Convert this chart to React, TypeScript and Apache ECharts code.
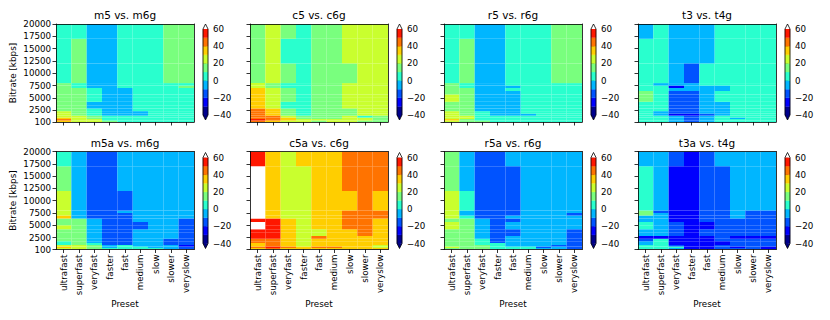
import React, { useEffect, useRef } from "react";
import * as echarts from "echarts";

// ---------------- data ----------------
const presets = ["ultrafast", "superfast", "veryfast", "faster", "fast", "medium", "slow", "slower", "veryslow"];
const panelTitles = [
  "m5 vs. m6g", "c5 vs. c6g", "r5 vs. r6g", "t3 vs. t4g",
  "m5a vs. m6g", "c5a vs. c6g", "r5a vs. r6g", "t3a vs. t4g",
];
// bitrate cell edges (kbps), bottom to top
const bitrateEdges = [100, 400, 700, 1000, 1400, 1800, 2300, 2850, 3500, 4200, 5000, 5700, 6400, 7000, 7500, 8000, 12000, 17000, 20000];
const yTicks = [100, 2500, 5000, 7500, 10000, 12500, 15000, 17500, 20000];
const levels = [-40, -30, -20, -10, 0, 10, 20, 30, 40, 50, 60];
const levelColors = ["#00008d", "#0000fe", "#0053ff", "#00b6ff", "#29ffce", "#79ff7e", "#c9ff2e", "#ffce00", "#ff7300", "#ff1700"];
const underColor = "#000080";
const overColor = "#ffffff";

// Each panel: one array per preset column, values per bitrate row from bottom (100) to top (20000), in %
const m5Cols = [
  [35, 45, 35, 25, 25, 25, 15, 15, 15, 15, 15, 15, 15, 15, 15, 5, 5, 5],
  [25, 25, 25, 25, 15, 15, 15, 15, 15, 15, 15, 15, 15, 5, 5, 15, 15, 5],
  [25, 25, 15, 15, 5, 5, 5, -5, -5, 5, 5, 5, 5, -5, -5, -5, -5, -5],
  [15, 5, 5, 5, -5, -5, -5, -5, -5, -5, -5, -5, -5, -5, -5, -5, -5, -5],
  [5, 5, 5, 5, -5, -5, -5, -5, -5, -5, -5, -5, -5, 5, 5, 5, 5, 5],
  [5, 5, 5, 5, -5, -5, 5, 5, 5, 5, 5, 5, 5, 5, 5, 5, 5, 5],
  [5, 5, 5, 5, 5, 5, 5, 5, 5, 5, 5, 5, 5, 5, 5, 5, 5, 5],
  [5, 5, 5, 5, 5, 5, 5, 5, 5, 5, 5, 5, 5, 5, 5, 15, 15, 15],
  [5, 5, 5, 5, 5, 5, 5, 5, 5, 5, 5, 5, 5, 15, 5, 15, 15, 15],
];
const c5Cols = [
  [45, 55, 45, 45, 45, 45, 45, 35, 35, 35, 35, 35, 35, 25, 25, 15, 15, 15],
  [35, 45, 45, 45, 35, 35, 35, 25, 25, 25, 25, 25, 25, 15, 15, 25, 25, 25],
  [25, 35, 35, 25, 15, 15, 15, 5, 5, 15, 15, 15, 15, 5, 5, 15, 5, 15],
  [25, 25, 15, 15, 5, 5, 5, 5, 5, 5, 5, 5, 5, 5, 5, 5, 5, 5],
  [15, 25, 15, 15, 15, 15, 15, 15, 15, 15, 15, 15, 15, 15, 15, 15, 15, 15],
  [25, 25, 15, 15, 15, 15, 15, 15, 15, 15, 15, 15, 15, 15, 15, 15, 15, 15],
  [25, 25, 25, 25, 15, 15, 15, 25, 25, 25, 25, 25, 25, 25, 25, 15, 25, 25],
  [15, 25, 25, 5, 25, 25, 25, 25, 25, 25, 25, 25, 25, 25, 25, 25, 25, 25],
  [15, 15, 15, 15, 25, 25, 25, 25, 25, 25, 25, 25, 25, 25, 25, 25, 25, 25],
];
const r5Cols = [
  [25, 35, 25, 25, 25, 25, 15, 15, 15, 25, 25, 15, 15, 15, 15, 5, 5, 5],
  [15, 15, 25, 25, 15, 15, 15, 15, 15, 15, 15, 15, 15, 5, 5, 15, 15, 5],
  [15, 5, 5, 5, 5, 5, -5, -5, -5, -5, -5, -5, -5, -5, -5, -5, -5, -5],
  [5, 5, 5, 5, -5, -5, -5, -5, -5, -5, -5, -5, -5, -5, -5, -5, -5, -5],
  [5, 5, 5, 5, -5, -5, -5, -5, -5, -5, -5, -5, 5, -5, 5, 5, 5, 5],
  [5, 5, 5, 5, -5, 5, 5, 5, 5, 5, 5, 5, 5, 5, 5, 5, 5, 5],
  [5, 5, 5, 5, 5, 5, 5, 5, 5, 5, 5, 5, 5, 5, 5, 5, 5, 5],
  [5, 5, 5, 5, 5, 5, 5, 5, 5, 5, 5, 5, 5, 5, 5, 15, 15, 15],
  [5, 5, 5, 5, 5, 5, 5, 5, 5, 5, 5, 5, 5, 5, 5, 15, 15, 15],
];
const t3Cols = [
  [5, 5, 5, 5, 5, 5, 5, 5, 5, 15, 15, 15, 5, 5, 5, 5, 5, -5],
  [5, 5, 5, 5, -5, -5, 5, 5, 5, 5, 5, 5, 5, 5, -5, 5, 5, 5],
  [-5, -5, -5, -5, -25, -15, -15, -15, -15, -15, -15, -15, -5, -25, -5, -5, -5, -5],
  [-15, -15, -15, -15, -25, -15, -15, -15, -15, -15, -15, -15, -5, -5, -5, -15, -5, -5],
  [-5, -5, -5, -5, -15, -5, -5, -5, -5, -5, -5, -5, -5, -5, 5, 5, -5, -5],
  [5, 5, 5, 5, -5, -5, -5, -5, -5, 5, 5, 5, -5, -5, 5, 5, 5, 5],
  [5, 5, -5, 5, 5, 5, 5, 5, 5, 5, 5, 5, 5, 5, 5, 5, 5, 5],
  [5, 5, 5, 5, 5, 5, 5, 5, 5, 5, 5, 5, 5, 5, 5, 5, 5, 5],
  [5, 5, 5, 5, 5, 5, 5, 5, 5, 5, 5, 5, 5, 5, 5, 5, 5, 5],
];
const m5aCols = [
  [25, 35, 25, 5, 5, 15, 15, 15, 15, 25, 15, 15, 35, 25, 25, 25, 15, 5],
  [25, 25, 25, 15, 15, 15, 15, 15, 15, 15, 15, 15, -5, -5, -5, -5, -5, -5],
  [15, 15, 15, 5, -5, -5, -5, -5, -5, -5, -5, -5, -15, -15, -15, -15, -15, -15],
  [5, -5, -5, -15, -15, -15, -15, -15, -15, -15, -15, -15, -15, -15, -15, -15, -15, -15],
  [5, 5, 5, -15, -15, -15, -15, -15, -15, -15, -15, -15, -15, -15, -5, -15, -5, -5],
  [5, 5, -5, -5, -5, -5, -5, -5, -5, -15, -15, -5, -5, -5, -5, -5, -5, -5],
  [5, -5, -5, -5, -5, -5, -5, -5, -5, -5, -5, -5, -5, -5, -5, -5, -5, -5],
  [-5, -5, -5, -15, -15, -15, -5, -5, -5, -5, -5, -5, -5, -5, -5, -5, -5, -5],
  [-15, -15, -25, -15, -15, -15, -15, -15, -15, -15, -15, -15, -5, -5, -5, -5, -5, -5],
];
const c5aCols = [
  [35, 45, 35, 35, 45, 45, 55, 55, 55, 65, 65, 55, 65, 65, 65, 65, 65, 55],
  [45, 55, 45, 45, 45, 45, 55, 55, 55, 55, 55, 55, 35, 35, 35, 35, 35, 35],
  [35, 45, 35, 35, 35, 35, 35, 35, 35, 35, 35, 35, 25, 25, 25, 25, 25, 25],
  [35, 35, 25, 25, 25, 25, 25, 25, 25, 25, 25, 25, 25, 25, 25, 25, 25, 35],
  [35, 45, 35, 35, 35, 35, 45, 25, 25, 35, 35, 35, 35, 35, 35, 35, 35, 35],
  [35, 45, 35, 35, 35, 35, 35, 35, 35, 35, 35, 35, 35, 35, 35, 35, 35, 35],
  [35, 35, 35, 35, 35, 35, 35, 35, 35, 45, 45, 45, 45, 45, 45, 35, 45, 45],
  [35, 35, 35, 35, 35, 35, 35, 45, 45, 45, 45, 45, 45, 45, 45, 45, 45, 45],
  [35, 25, 25, 35, 35, 35, 35, 35, 35, 35, 35, 35, 45, 45, 45, 35, 45, 45],
];
const r5aCols = [
  [15, 25, 15, 15, 15, 15, 15, 15, 15, 25, 25, 15, 25, 25, 25, 25, 15, 15],
  [15, 15, 15, 15, 15, 15, 15, 15, 15, 15, 15, 15, 5, -5, -5, 5, -5, -5],
  [15, 15, 15, 5, 5, 5, -5, -5, -5, -5, -5, -5, -15, -15, -15, -15, -15, -15],
  [5, 5, 5, 5, -15, -15, -15, -15, -15, -15, -15, -15, -15, -15, -15, -15, -15, -15],
  [5, 5, -5, -5, -5, -5, -5, -15, -15, -5, -5, -15, -5, -15, -15, -15, -15, -5],
  [5, 5, -5, -5, -5, -5, -5, -5, -5, -5, -5, -5, -5, -5, -5, -5, -5, -5],
  [-5, -15, -5, -5, -5, -5, -5, -5, -5, -5, -5, -5, -5, -5, -5, -5, -5, -5],
  [-5, -5, -15, -5, -5, -5, -5, -5, -5, -5, -5, -5, -5, -5, -5, -5, -5, -5],
  [-15, -15, -15, -15, -15, -15, -15, -15, -15, -5, -5, -5, -5, -15, -5, -5, -5, -5],
];
const t3aCols = [
  [5, 5, 5, -5, -5, -15, -25, -5, -5, 5, 5, -5, -5, 15, 15, 5, 5, -5],
  [5, 5, 5, 5, 5, 5, -25, -5, -5, -5, -5, -5, -5, -5, -15, -5, -5, -5],
  [-5, 5, -15, -25, -25, -25, -25, -15, -15, -15, -15, -25, -25, -25, -25, -25, -25, -15],
  [-25, -25, -25, -25, -25, -25, -25, -25, -25, -25, -25, -25, -25, -25, -25, -25, -25, -25],
  [-25, -25, -25, -25, -25, -25, -25, -15, -15, -25, -25, -15, -15, -15, -15, -15, -15, -15],
  [-15, -15, -15, -25, -25, -15, -15, -15, -15, -15, -15, -15, -15, -15, -15, -15, -15, -5],
  [-15, -25, -15, -15, -15, -15, -25, -15, -15, -15, -15, -15, -5, -5, -5, -5, -5, -5],
  [-15, -15, -15, -15, -15, -15, -25, -15, -15, -15, -15, -15, -15, -15, -15, -5, -5, -5],
  [-25, -25, -15, -15, -15, -15, -25, -15, -15, -15, -15, -15, -15, -15, -15, -5, -5, -5],
];
const panelData = [m5Cols, c5Cols, r5Cols, t3Cols, m5aCols, c5aCols, r5aCols, t3aCols];

// ---------------- helpers ----------------
const FONT = "DejaVu Sans";
const colorFor = (v: number) => {
  if (v > levels[levels.length - 1]) return overColor;
  if (v < levels[0]) return underColor;
  let i = Math.floor((v - levels[0]) / (levels[1] - levels[0]));
  i = Math.max(0, Math.min(levelColors.length - 1, i));
  return levelColors[i];
};
const minusFmt = (v: number) => String(v).replace("-", "\u2212");
const plainFmt = (v: number) => String(v);

function buildOption() {
  const PL = 56, PW = 138, PH = 98, DX = 194;
  const rowTops = [24, 151.5];
  const cbOffsets = [5, 6];
  const grid: any[] = [];
  const xAxis: any[] = [];
  const yAxis: any[] = [];
  const series: any[] = [];
  const graphic: any[] = [];
  const tickLine = { color: "#000", width: 0.8 };
  const labelStyle = { fontSize: 8.7, color: "#000", fontFamily: FONT };

  panelData.forEach((cols, p) => {
    const r = Math.floor(p / 4);
    const c = p % 4;
    const left = PL + c * DX;
    const top = rowTops[r];
    const g = grid.length;
    grid.push({ left, top, width: PW, height: PH });
    grid.push({ left: left + PW + 9, top: top + cbOffsets[r], width: 5, height: 86 });

    // main axes
    const xi = xAxis.length;
    xAxis.push({
      type: "category", gridIndex: g, data: presets, position: "bottom", boundaryGap: true, z: 5,
      axisLine: { show: true, onZero: false, lineStyle: tickLine },
      axisTick: { show: true, alignWithLabel: true, length: 3.5, lineStyle: tickLine },
      axisLabel: { show: r === 1, rotate: 90, interval: 0, margin: 5, ...labelStyle },
      splitLine: { show: false },
      name: r === 1 ? "Preset" : "", nameLocation: "middle", nameGap: 48,
      nameTextStyle: { fontSize: 8.8, color: "#000", fontFamily: FONT },
    });
    xAxis.push({
      type: "category", gridIndex: g, data: presets, position: "top", boundaryGap: true, z: 5,
      axisLine: { show: true, onZero: false, lineStyle: tickLine },
      axisTick: { show: false }, axisLabel: { show: false }, splitLine: { show: false },
    });
    xAxis.push({ type: "value", gridIndex: g + 1, min: 0, max: 1, show: false });

    const yi = yAxis.length;
    yAxis.push({
      type: "value", gridIndex: g, min: bitrateEdges[0], max: bitrateEdges[bitrateEdges.length - 1], position: "left", z: 5,
      axisLine: { show: true, onZero: false, lineStyle: tickLine },
      axisTick: { show: true, length: 3.5, lineStyle: tickLine, customValues: yTicks },
      axisLabel: { show: c === 0, margin: 5, customValues: yTicks, formatter: plainFmt, ...labelStyle },
      splitLine: { show: false },
      name: c === 0 ? "Bitrate [kbps]" : "", nameLocation: "middle", nameGap: 39, nameRotate: 90,
      nameTextStyle: { fontSize: 8.8, color: "#000", fontFamily: FONT },
    });
    yAxis.push({
      type: "value", gridIndex: g, min: bitrateEdges[0], max: bitrateEdges[bitrateEdges.length - 1], position: "right", z: 5,
      axisLine: { show: true, onZero: false, lineStyle: tickLine },
      axisTick: { show: false }, axisLabel: { show: false }, splitLine: { show: false },
    });
    yAxis.push({
      type: "value", gridIndex: g + 1, min: levels[0], max: levels[levels.length - 1], interval: 20, position: "right",
      axisLine: { show: false },
      axisTick: { show: true, length: 3.5, lineStyle: tickLine },
      axisLabel: { show: true, margin: 5, formatter: minusFmt, ...labelStyle },
      splitLine: { show: false },
    });

    // heatmap cells
    const cells: number[][] = [];
    cols.forEach((colVals, ci) => {
      colVals.forEach((v, ri) => {
        cells.push([ci, bitrateEdges[ri], bitrateEdges[ri + 1], v]);
      });
    });
    series.push({
      type: "custom", xAxisIndex: xi, yAxisIndex: yi, clip: true, data: cells,
      encode: { x: 0, y: [1, 2] },
      renderItem: (params: any, api: any) => {
        const ci = api.value(0);
        const p0 = api.coord([ci, api.value(1)]);
        const p1 = api.coord([ci, api.value(2)]);
        const w = api.size([1, 0])[0];
        return {
          type: "rect",
          shape: { x: p0[0] - w / 2, y: p1[1], width: w, height: p0[1] - p1[1] },
          style: { fill: colorFor(api.value(3)) },
        };
      },
    });

    // colorbar bins
    const bins = levels.slice(0, -1).map((lo, i) => [lo, levels[i + 1]]);
    series.push({
      type: "custom", xAxisIndex: xi + 2, yAxisIndex: yi + 2, clip: false, data: bins,
      encode: { y: [0, 1] },
      renderItem: (params: any, api: any) => {
        const lo = api.value(0), hi = api.value(1);
        const a = api.coord([0, lo]);
        const b = api.coord([1, hi]);
        return {
          type: "rect",
          shape: { x: a[0], y: b[1], width: b[0] - a[0], height: a[1] - b[1] },
          style: { fill: colorFor((lo + hi) / 2), stroke: colorFor((lo + hi) / 2), lineWidth: 0.3 },
        };
      },
    });
    // colorbar extension triangles + outline
    series.push({
      type: "custom", xAxisIndex: xi + 2, yAxisIndex: yi + 2, clip: false,
      data: [[levels[0], levels[levels.length - 1]]],
      encode: { y: [0, 1] },
      z: 4,
      renderItem: (params: any, api: any) => {
        const bl = api.coord([0, api.value(0)]);
        const tr = api.coord([1, api.value(1)]);
        const x0 = bl[0], x1 = tr[0], yb = bl[1], yt = tr[1];
        const xc = (x0 + x1) / 2;
        const h = 5;
        return {
          type: "group",
          children: [
            { type: "polygon", shape: { points: [[x0, yt], [x1, yt], [xc, yt - h]] }, style: { fill: overColor } },
            { type: "polygon", shape: { points: [[x0, yb], [x1, yb], [xc, yb + h]] }, style: { fill: underColor } },
            {
              type: "polygon",
              shape: { points: [[x0, yt], [xc, yt - h], [x1, yt], [x1, yb], [xc, yb + h], [x0, yb]] },
              style: { fill: "none", stroke: "#000", lineWidth: 0.8 },
            },
          ],
        };
      },
    });

    graphic.push({
      type: "text",
      x: left + PW / 2,
      y: r === 0 ? 14.5 : 142.5,
      style: {
        text: panelTitles[p], fontSize: 10.5, fontFamily: FONT, fill: "#000",
        align: "center", verticalAlign: "middle", textAlign: "center", textVerticalAlign: "middle",
      },
    });
  });

  return {
    animation: false,
    backgroundColor: "#ffffff",
    textStyle: { fontFamily: FONT },
    grid, xAxis, yAxis, series, graphic,
  };
}

export default function App() {
  const ref = useRef<HTMLDivElement>(null);
  useEffect(() => {
    document.body.style.margin = "0";
    if (!ref.current) return;
    const chart = echarts.init(ref.current, undefined, { renderer: "svg" });
    chart.setOption(buildOption() as any);
    return () => chart.dispose();
  }, []);
  return <div ref={ref} style={{ width: 830, height: 320 }} />;
}
